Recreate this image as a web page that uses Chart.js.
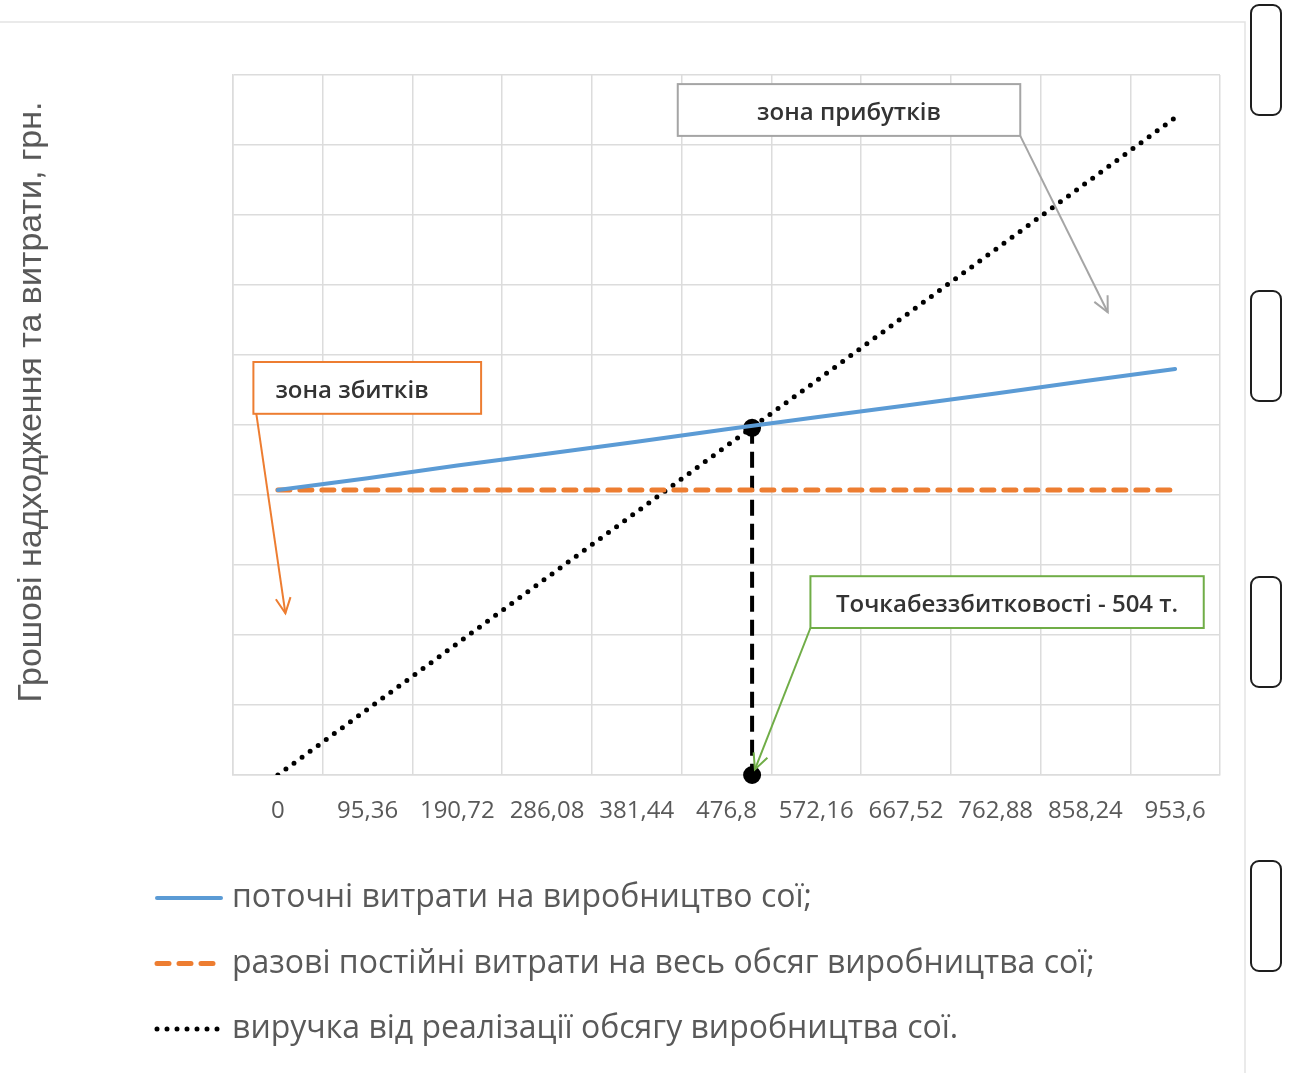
<!DOCTYPE html>
<html>
<head>
<meta charset="utf-8">
<script src="https://cdn.jsdelivr.net/npm/chart.js@4.4.0/dist/chart.umd.min.js"></script>
<style>
  html, body { margin:0; padding:0; background:#fff; overflow:hidden; }
  #wrap { position:relative; width:1291px; height:1073px; }
  .brk { position:absolute; left:1250px; width:28px; border:2px solid #1e1e1e; border-radius:9px; }
</style>
</head>
<body>
<div id="wrap">
  <canvas id="chart"></canvas>
  <div class="brk" style="top:4px;height:108px"></div>
  <div class="brk" style="top:290px;height:108px"></div>
  <div class="brk" style="top:576px;height:108px"></div>
  <div class="brk" style="top:860px;height:108px"></div>
</div>
<script>
// обсяг виробництва, т (підписи осі X)
var categories = ['0', '95,36', '190,72', '286,08', '381,44', '476,8', '572,16', '667,52', '762,88', '858,24', '953,6'];

// значення у поділках сітки (вісь Y без підписів)
var currentCosts = [4.07, 4.24, 4.42, 4.59, 4.76, 4.94, 5.11, 5.28, 5.45, 5.63, 5.80];
var fixedCosts   = [4.07, 4.07, 4.07, 4.07, 4.07, 4.07, 4.07, 4.07, 4.07, 4.07, 4.07];
var revenue      = [0, 0.94, 1.88, 2.82, 3.76, 4.70, 5.63, 6.57, 7.51, 8.45, 9.39];

var breakEvenVolume = 504;
var breakEvenLevel = 4.96;

var seriesNames = [
  'поточні витрати на виробництво сої;',
  'разові постійні витрати на весь обсяг виробництва сої;',
  'виручка від реалізації обсягу виробництва сої.'
];
var yTitle = 'Грошові надходження та витрати, грн.';

// підписи-виноски: координати в одиницях осей (т, поділки)
var notes = [
  { text: 'зона прибутків', color: '#a5a5a5', box: [425, 9.87, 789, 9.13], align: 'center', arrow: [789, 9.13, 882, 6.61] },
  { text: 'зона збитків', color: '#ed7d31', box: [-26, 5.90, 216, 5.16], align: 'left', arrow: [-23, 5.17, 8, 2.31] },
  { text: 'Точкабеззбитковості - 504 т.', color: '#70ad47', box: [566, 2.84, 984, 2.10], align: 'center', arrow: [566, 2.10, 507, 0.08] }
];

function drawArrowHead(ctx, x1, y1, x2, y2) {
  var a = Math.atan2(y2 - y1, x2 - x1);
  var len = 17, spread = 0.45;
  ctx.beginPath();
  ctx.moveTo(x2 - len * Math.cos(a - spread), y2 - len * Math.sin(a - spread));
  ctx.lineTo(x2, y2);
  ctx.lineTo(x2 - len * Math.cos(a + spread), y2 - len * Math.sin(a + spread));
  ctx.stroke();
}

var extras = {
  id: 'extras',
  beforeDraw: function(chart) {
    var ctx = chart.ctx;
    ctx.save();
    ctx.strokeStyle = '#e3e3e3';
    ctx.lineWidth = 1.5;
    ctx.beginPath();
    ctx.moveTo(0, 22);
    ctx.lineTo(1245, 22);
    ctx.lineTo(1245, 1073);
    ctx.stroke();
    ctx.restore();
  },
  afterDatasetsDraw: function(chart) {
    var ctx = chart.ctx;
    var sx = chart.scales.xb, sy = chart.scales.y;
    ctx.save();
    notes.forEach(function(n) {
      var x1 = sx.getPixelForValue(n.box[0]), y1 = sy.getPixelForValue(n.box[1]);
      var x2 = sx.getPixelForValue(n.box[2]), y2 = sy.getPixelForValue(n.box[3]);
      ctx.fillStyle = '#fff';
      ctx.fillRect(x1, y1, x2 - x1, y2 - y1);
      ctx.strokeStyle = n.color;
      ctx.lineWidth = 2;
      ctx.strokeRect(x1, y1, x2 - x1, y2 - y1);
      ctx.fillStyle = '#333333';
      ctx.font = '600 24px "Open Sans"';
      ctx.textBaseline = 'middle';
      ctx.textAlign = n.align;
      var tx = n.align == 'center' ? (x1 + x2) / 2 : x1 + 22;
      ctx.fillText(n.text, tx, (y1 + y2) / 2 + 3);

      var ax1 = sx.getPixelForValue(n.arrow[0]), ay1 = sy.getPixelForValue(n.arrow[1]);
      var ax2 = sx.getPixelForValue(n.arrow[2]), ay2 = sy.getPixelForValue(n.arrow[3]);
      ctx.lineWidth = 2;
      ctx.beginPath();
      ctx.moveTo(ax1, ay1);
      ctx.lineTo(ax2, ay2);
      ctx.stroke();
      drawArrowHead(ctx, ax1, ay1, ax2, ay2);
    });
    ctx.restore();
  },
  afterDraw: function(chart) {
    var ctx = chart.ctx;
    ctx.save();
    // назва осі Y
    ctx.translate(32, 402);
    ctx.rotate(-Math.PI / 2);
    ctx.fillStyle = '#595959';
    ctx.font = '34px "Liberation Sans"';
    ctx.textAlign = 'center';
    ctx.textBaseline = 'middle';
    ctx.fillText(yTitle, 0, 0);
    ctx.restore();

    // легенда
    ctx.save();
    for (var i = 0; i < 3; i++) {
      var ds = chart.data.datasets[i];
      var y = 898 + i * 65.5;
      ctx.strokeStyle = ds.borderColor;
      ctx.lineWidth = ds.borderWidth;
      ctx.lineCap = ds.borderCapStyle || 'butt';
      ctx.setLineDash(ds.borderDash || []);
      ctx.beginPath();
      ctx.moveTo(157, y);
      ctx.lineTo(221, y);
      ctx.stroke();
      ctx.setLineDash([]);
      ctx.fillStyle = '#595959';
      ctx.font = '32px "Open Sans"';
      ctx.textAlign = 'left';
      ctx.textBaseline = 'middle';
      ctx.fillText(ds.label, 232, y);
    }
    ctx.restore();
  }
};

new Chart(document.getElementById('chart'), {
  type: 'line',
  data: {
    labels: categories,
    datasets: [{
      label: seriesNames[0],
      data: currentCosts,
      borderColor: '#5b9bd5',
      borderWidth: 4,
      borderCapStyle: 'round',
      pointRadius: 0,
      fill: false
    }, {
      label: seriesNames[1],
      data: fixedCosts,
      borderColor: '#ed7d31',
      borderWidth: 5,
      borderDash: [12, 10],
      borderCapStyle: 'round',
      pointRadius: 0,
      fill: false
    }, {
      label: seriesNames[2],
      data: revenue,
      borderColor: '#000000',
      borderWidth: 5,
      borderDash: [0, 10],
      borderCapStyle: 'round',
      pointRadius: 0,
      fill: false
    }, {
      label: 'точка беззбитковості',
      xAxisID: 'xb',
      data: [{ x: breakEvenVolume, y: breakEvenLevel }, { x: breakEvenVolume, y: 0 }],
      borderColor: '#000000',
      borderWidth: 4,
      borderDash: [16, 8],
      pointRadius: 7,
      pointBackgroundColor: '#000000',
      pointBorderColor: '#000000',
      clip: false,
      fill: false
    }]
  },
  options: {
    responsive: true,
    maintainAspectRatio: false,
    animation: false,
    layout: { padding: { top: 75, right: 71, left: 0, bottom: 0 } },
    plugins: {
      legend: { display: false },
      tooltip: { enabled: false }
    },
    scales: {
      x: {
        type: 'category',
        offset: true,
        grid: { offset: true, color: '#dcdcdc', lineWidth: 1.5, drawTicks: false },
        border: { color: '#dcdcdc', width: 1.5 },
        ticks: { color: '#595959', font: { family: 'Open Sans', size: 24 }, padding: 22, maxRotation: 0, autoSkip: false },
        afterFit: function(s) { s.height = 298; }
      },
      xb: {
        type: 'linear',
        display: false,
        min: -47.68,
        max: 1001.28
      },
      y: {
        min: 0,
        max: 10,
        ticks: { display: false, stepSize: 1 },
        grid: { color: '#dcdcdc', lineWidth: 1.5, drawTicks: false },
        border: { color: '#dcdcdc', width: 1.5 },
        afterFit: function(s) { s.width = 233; }
      }
    }
  },
  plugins: [extras]
});
</script>
</body>
</html>
